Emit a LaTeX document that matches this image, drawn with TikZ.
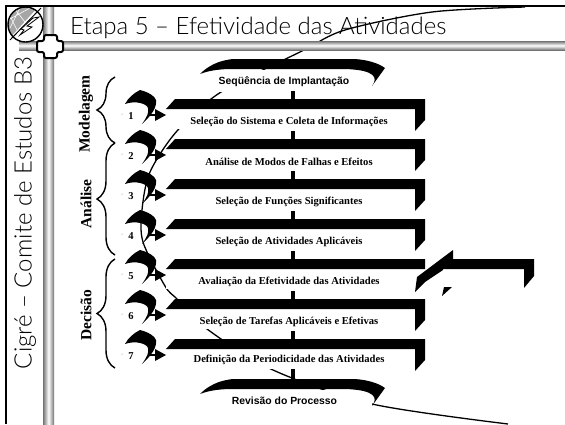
\documentclass[tikz,border=0pt]{standalone}
\usepackage{fontspec}
\setmainfont{Liberation Serif}
\newfontfamily\titlefont{Lato Light}
\newfontfamily\headfont{Liberation Sans}
\usepackage{tikz}
\usetikzlibrary{decorations.pathreplacing}
\definecolor{barGray}{gray}{0.45}
\tikzset{
	stepLabel/.style={font=\bfseries\fontsize{10.6}{11}\selectfont, inner sep=0pt},
	headLabel/.style={font=\headfont\bfseries\fontsize{10.4}{11}\selectfont, inner sep=0pt},
	groupLabel/.style={font=\bfseries\fontsize{15.5}{16}\selectfont, rotate=90, inner sep=0pt},
	bigLabel/.style={font=\titlefont\fontsize{24}{26}\selectfont, inner sep=0pt},
	stub/.style={line width=4pt},
	groupBrace/.style={line width=1.4pt, decorate, decoration={brace, amplitude=18pt, aspect=0.5}}
}
\begin{document}
\begin{tikzpicture}[x=1pt, y=-1pt]
	\useasboundingbox (0, 0) rectangle (565, 424);
	\fill[white] (0, 0) rectangle (565, 424);

	% long thin curve, behind everything else
	\draw[line width=1.3pt] plot[smooth] coordinates {(525, 7) (432, 12) (345, 30) (302, 51) (221, 92) (177, 131) (150, 172) (142, 210) (143, 242) (165, 286) (177, 299) (207, 329) (273, 370) (372, 404) (508, 424)};

	% frame and grey bars
	\shade[left color=barGray, right color=barGray, middle color=white] (43, 5) rectangle (54, 424);
	\shade[top color=barGray, bottom color=barGray, middle color=white] (19, 41) rectangle (565, 50);
	\draw[line width=2pt] (565, 6) -- (6, 6) -- (6, 424);

	% logo
	\fill[white] (25.5, 24.5) circle (17.5);
	\begin{scope}
		\clip (25.5, 24.5) circle (17.5);
		\fill[gray!70] (8, 40) -- (38, 7) -- (5, 5) -- cycle;
		\draw[white, line width=0.6pt] (8, 20) -- (30, 8) (10, 28) -- (20, 8) (14, 8) -- (25, 22) (8, 12) -- (17, 30);
	\end{scope}
	\draw[line width=1.4pt] (25.5, 24.5) circle (17.5);
	\draw[line width=1pt] (10, 40) -- (41, 8);
	\filldraw[fill=white, line width=0.8pt] (39, 17) -- (27, 26) -- (32, 27) -- (20, 35) -- (24, 30) -- (21, 29) -- (33, 18) -- cycle;

	% cross
	\filldraw[fill=white, line width=2pt, rounded corners=2pt] (44, 35) -- (57, 35) -- (57, 41) -- (63, 41) -- (63, 52) -- (57, 52) -- (57, 58) -- (44, 58) -- (44, 52) -- (37, 52) -- (37, 41) -- (44, 41) -- cycle;

	\node[bigLabel, anchor=west] (Title) at (70, 28) {Etapa 5 – Efetividade das Atividades};
	\node[bigLabel, rotate=90] (Side) at (25, 213) {Cigré – Comite de Estudos B3};

	% groups
	\draw[groupBrace] (115, 143) -- (115, 77);
	\draw[groupBrace] (115, 255) -- (115, 143);
	\draw[groupBrace] (115, 368) -- (115, 259);
	\node[groupLabel] (Modelagem) at (86, 114) {Modelagem};
	\node[groupLabel] (Analise) at (86, 204) {Análise};
	\node[groupLabel] (Decisao) at (86, 315) {Decisão};

	% first and last banner
	\foreach \y/\n in {0/Top, 320/Bottom} {
		\fill[white] (205, 70+\y) rectangle (372, 92+\y);
		\fill (200, 74+\y) .. controls (212, 62+\y) and (225, 60+\y) .. (233, 59+\y) -- (355, 59+\y) .. controls (368, 60+\y) and (378, 63+\y) .. (385, 68+\y) -- (372, 86+\y) .. controls (378, 78+\y) and (376, 70+\y) .. (345, 69+\y) -- (233, 69+\y) .. controls (222, 69+\y) and (210, 70+\y) .. (200, 74+\y) -- cycle;
		\coordinate (Banner\n) at (293, 59+\y);
	}
	\node[headLabel] (Head) at (284, 82) {Seqüência de Implantação};
	\node[headLabel] (Tail) at (284.5, 401) {Revisão do Processo};

	% the seven steps
	\foreach \n/\y/\t/\txt in {
		1/99/122/Seleção do Sistema e Coleta de Informações,
		2/139/162/Análise de Modos de Falhas e Efeitos,
		3/179/202/Seleção de Funções Significantes,
		4/219/242/Seleção de Atividades Aplicáveis,
		5/259/282/Avaliação da Efetividade das Atividades,
		6/299/322/Seleção de Tarefas Aplicáveis e Efetivas,
		7/339/360/Definição da Periodicidade das Atividades} {
		\fill[white] (166, \y+10) rectangle (415, \y+30);
		\fill (166, \y+10) -- (175, \y) -- (425, \y) -- (425, \y+10) -- cycle;
		\coordinate (Bar\n) at (293, \y);
		\draw[stub] (293, \y-8) -- (Bar\n);
		\node[stepLabel] (Label\n) at (289, \t) {\txt};
		% crescent and arrow
		\fill (125, \y+5) .. controls (128, \y-1) and (134, \y-6) .. (140, \y-9) .. controls (148, \y-7) and (155, \y-3) .. (156, \y+1) .. controls (157, \y+8) and (152, \y+16) .. (142, \y+25) .. controls (147, \y+18) and (149, \y+14) .. (148, \y+9) .. controls (147, \y+5) and (136, \y+1) .. (125, \y+5) -- cycle;
		\draw[line width=2.5pt] (148, \y+16) -- (156, \y+16);
		\fill (155, \y+10) -- (166, \y+16) -- (155, \y+22) -- cycle;
		\node[stepLabel, font=\bfseries\fontsize{10.5}{11}\selectfont] (Num\n) at (131, \y+17) {\n};
		\fill[gray] (122, \y+15) circle (0.5);
	}
	\foreach \y in {99, 139, 179, 219, 299, 339} {
		\fill (415, \y+10) -- (425, \y+10) -- (425, \y+21) -- (415, \y+32) -- cycle;
	}
	\draw[stub] (293, 369) -- (BannerBottom);

	% broken step 5 and the box on its right
	\fill (417, 277) -- (453, 250) -- (453, 259) -- (443, 260) -- (443, 270) -- (425, 282) -- (415, 292) -- cycle;
	\fill (443, 259) -- (534, 259) -- (534, 276) -- (524, 288) -- (524, 269) -- (443, 269) -- cycle;
	\fill (442, 296) -- (452, 287) -- (444, 287) -- cycle;
\end{tikzpicture}
\end{document}
